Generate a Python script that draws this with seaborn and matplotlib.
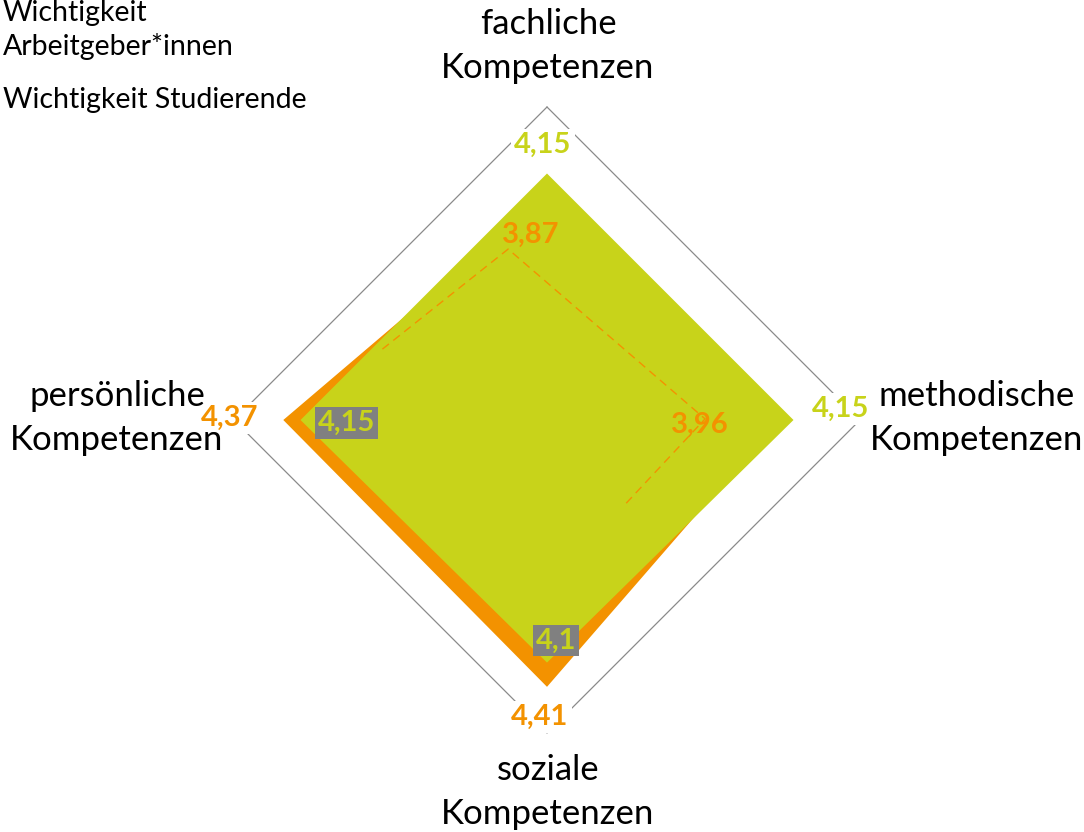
import numpy as np
import seaborn as sns
import matplotlib.pyplot as plt

# Kompetenzbereiche (im Uhrzeigersinn, oben beginnend)
kategorien = ['fachliche\nKompetenzen', 'methodische\nKompetenzen',
              'soziale\nKompetenzen', 'persönliche\nKompetenzen']
arbeitgeber = [3.87, 3.96, 4.41, 4.37]
studierende = [4.15, 4.15, 4.1, 4.15]
skala_min, skala_max = 1, 5

# gestrichelte Hilfslinie im Original (Winkel in Grad, Radius in Skalenwerten)
hilfslinie_winkel = [293.3, 347.2, 89.6, 137.5]
hilfslinie_r = [3.29, 3.24, 3.02, 2.47]

legende = ['Wichtigkeit\nArbeitgeber*innen', 'Wichtigkeit Studierende']

orange = '#F39200'
gruen = '#C8D31A'
grau = '#808080'

sns.set_theme(style='white')
plt.rcParams['font.family'] = ['Lato', 'DejaVu Sans']

W, H = 1084, 832
fig = plt.figure(figsize=(W / 100, H / 100), dpi=100)
fig.patch.set_facecolor('white')

# polar axes: Mitte (547,420) px, Radius 313 px
cx, cy, R = 547, 420, 313
ax = fig.add_axes([(cx - R) / W, (H - cy - R) / H, 2 * R / W, 2 * R / H], projection='polar')
ax.set_theta_zero_location('N')
ax.set_theta_direction(-1)
ax.set_ylim(skala_min, skala_max)
ax.set_xticks([])
ax.set_yticks([])
ax.grid(False)
ax.spines['polar'].set_visible(False)
ax.set_facecolor('none')

winkel = np.linspace(0, 2 * np.pi, len(kategorien), endpoint=False)
w_zu = np.append(winkel, winkel[0])

# aeussere Rasterlinie
ax.plot(w_zu, [skala_max] * len(w_zu), color='#8a8a8a', lw=0.9, clip_on=False, zorder=1)

a_zu = np.append(arbeitgeber, arbeitgeber[0])
s_zu = np.append(studierende, studierende[0])
ax.fill(w_zu, a_zu, color=orange, lw=0, zorder=2)
ax.fill(w_zu, s_zu, color=gruen, lw=0, zorder=3)

ax.plot(np.deg2rad(hilfslinie_winkel), hilfslinie_r, color=orange, lw=1,
        ls=(0, (6, 4)), zorder=4)

# Datenbeschriftungen (Versatz in Pixeln zum Eckpunkt)
versatz_a = [(-16, -39), (-79, -5), (-7, -30), (-54, 2)]
box_a = [None, None, 'white', 'white']
versatz_s = [(-4, 29), (47, 11), (9, 22), (46, -3)]
box_s = ['white', 'white', grau, grau]

def beschriften(werte, versatz, boxen, farbe):
    for w, v, off, bx in zip(winkel, werte, versatz, boxen):
        txt = f'{v:g}'.replace('.', ',')
        kw = {}
        if bx is not None:
            kw['bbox'] = dict(boxstyle='square,pad=0.1', fc=bx, ec='none')
        ax.annotate(txt, xy=(w, v), xytext=off, textcoords='offset pixels',
                    ha='center', va='center', fontsize=21, fontweight='bold',
                    color=farbe, annotation_clip=False, zorder=6, **kw)

beschriften(arbeitgeber, versatz_a, box_a, orange)
beschriften(studierende, versatz_s, box_s, gruen)

# Kategorienbeschriftungen
kat_pos = [(548, 46), (977, 418), (548, 792), (117, 418)]
for name, (x, y) in zip(kategorien, kat_pos):
    fig.text(x / W, 1 - y / H, name, ha='center', va='center', fontsize=25,
             color='black', linespacing=1.48)

# Legende (Text ohne Symbole)
fig.text(3 / W, 1 - 30 / H, legende[0], ha='left', va='center', fontsize=20.5,
         color='black', linespacing=1.36)
fig.text(3 / W, 1 - 100 / H, legende[1], ha='left', va='center', fontsize=20.5,
         color='black')

fig.savefig('out.png', dpi=100, facecolor='white')
